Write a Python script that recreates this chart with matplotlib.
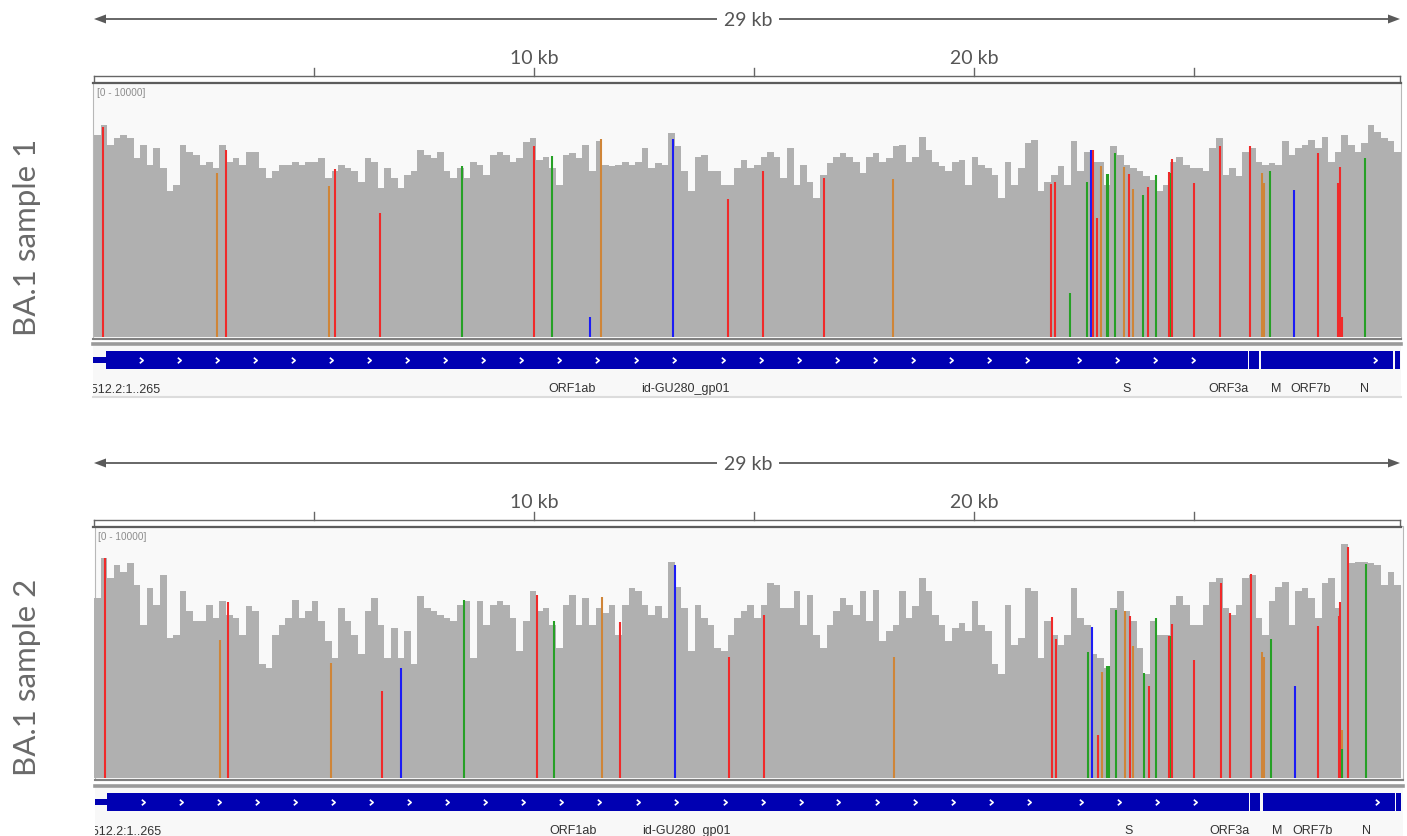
import matplotlib
matplotlib.use("Agg")
import matplotlib.pyplot as plt
from matplotlib.patches import Rectangle, Polygon
from matplotlib.path import Path

# ---------------- data ----------------
BIN = 150  # bp per coverage bin
cov1 = [8020, 8420, 7620, 7890, 8020, 7890, 7100, 7620, 6830, 7490,
        6700, 5780, 6040, 7620, 7360, 7230, 6830, 6960, 6700, 7620,
        6960, 7100, 6830, 7360, 7360, 6700, 6300, 6570, 6830, 6830,
        6960, 6830, 6960, 6960, 7100, 6300, 6570, 6830, 6700, 6570,
        6170, 7100, 6960, 5910, 6700, 6300, 5910, 6440, 6570, 7430,
        7230, 7100, 7360, 6570, 6300, 6700, 6300, 6960, 6830, 6440,
        7230, 7360, 7230, 6960, 7100, 7750,
        7890, 7030, 7160, 6700, 6040, 7230, 7290, 7100, 7620, 6570,
        7760, 6830, 6770, 6830, 6960, 6830, 6960, 7490, 6700, 6900,
        6830, 8090, 7560, 6570, 5780, 7160, 7230, 6570, 6570, 6040,
        6040, 6700, 7030, 6700, 6830, 7160, 7360, 7160, 6300, 7490,
        6040, 6830, 6170, 5510, 6440, 6900, 7160, 7290, 7160, 6960,
        6500, 7160, 7290, 6960, 7100, 7560, 7620, 6960, 7160, 7950,
        7430, 6960, 6770, 6570, 6960, 7030,
        6040, 7160, 6830, 6700, 6440, 5510, 6960, 6040, 6700, 7690,
        7820, 5780, 6170, 6440, 6770, 6040, 7760, 6570, 7360, 6960,
        6960, 6040, 7560, 7230, 6830, 6700, 6570, 6370, 6240, 5780,
        6040, 6960, 7160, 6830, 6700, 6700, 6570, 7490, 7890, 6440,
        6700, 6370, 7360, 7490, 6960, 6830, 6900, 6830, 7760, 7230,
        7490, 7620, 7820, 7490, 7950, 6960, 7360, 8020, 7620, 7360,
        7690, 8420, 8150, 7890, 7760, 7360]

cov2 = [7230, 8820, 8020, 8550, 8290, 8620, 7760, 6160, 7620, 6960,
        8150, 5630, 5760, 7490, 6690, 6290, 6290, 6960, 6430, 7090,
        6560, 6430, 5760, 6890, 6690, 4560, 4430, 5760, 6160, 6430,
        7160, 6430, 6690, 7090, 6290, 5500, 4830, 6830, 6290, 5760,
        4960, 6690, 7230, 6160, 4830, 6030, 4830, 5890, 4560, 7290,
        6830, 6690, 6560, 6430, 6290, 6960, 7090, 4830, 7090, 6160,
        6960, 7090, 6960, 6430, 5100, 6290,
        7490, 6690, 6830, 6160, 5230, 6960, 7360, 6160, 7220, 6160,
        6830, 6630, 6960, 5760, 6960, 7620, 7490, 6960, 6560, 6900,
        6430, 8690, 7690, 6830, 5100, 6960, 6430, 6160, 5230, 5100,
        5760, 6430, 6690, 6960, 6430, 6960, 7830, 7760, 6830, 6830,
        7490, 6160, 7360, 5760, 5230, 6160, 6690, 7220, 6960, 6560,
        7490, 6290, 7560, 5500, 5890, 6160, 7490, 6430, 6890, 8020,
        7490, 6560, 6160, 5500, 6030, 6230,
        5890, 7090, 6160, 5890, 4560, 4170, 6960, 5360, 5630, 7620,
        7490, 4830, 6290, 5760, 5360, 5760, 7620, 6430, 6160, 4960,
        4830, 4430, 6830, 7490, 6690, 6290, 5230, 4170, 6290, 5760,
        5760, 6960, 7290, 6960, 6160, 6160, 6960, 7890, 8020, 6830,
        6560, 6960, 8020, 8150, 6430, 5760, 7090, 7690, 7890, 6160,
        7490, 7620, 7220, 6430, 7830, 8020, 6830, 9400, 8620, 8690,
        8690, 8620, 8550, 7760, 8290, 7760]

s1_pos = [197, 2795, 2993, 5333, 5485, 6492, 8371, 10008, 10409, 11265,
          11523, 13152, 14402, 15205, 16583, 18159, 21750, 21848, 22189, 22560,
          22659, 22705, 22803, 22886, 23015, 23052, 23211, 23409, 23530, 23606,
          23841, 23962, 24129, 24424, 24470, 24500, 24993, 25591, 26265, 26538,
          26584, 26734, 27273, 27818, 28280, 28311, 28364, 28893]
s1_base = ['T', 'G', 'T', 'G', 'T', 'T', 'A', 'T', 'A', 'C',
           'G', 'C', 'T', 'T', 'T', 'G', 'T', 'T', 'A', 'A',
           'C', 'T', 'T', 'G', 'A', 'A', 'A', 'G', 'T', 'G',
           'A', 'T', 'A', 'T', 'A', 'T', 'T', 'T', 'T', 'G',
           'G', 'A', 'C', 'T', 'T', 'T', 'T', 'A']
s1_depth = [8350, 6500, 7430, 5990, 6650, 4920, 6770, 7560, 7190, 790,
            7850, 7850, 5470, 6570, 6300, 6260, 6080, 6150, 1750, 6170,
            7430, 7430, 4740, 6800, 6460, 6460, 7320, 6730, 6460, 5880,
            5640, 5970, 6440, 6540, 6500, 7070, 6130, 7580, 7580, 6500,
            6100, 6570, 5840, 7290, 6100, 6730, 800, 7120]

s2_pos = [250, 2856, 3053, 5379, 6545, 6970, 8402, 10061, 10455, 11545,
          11955, 13197, 14432, 15234, 18174, 21780, 21871, 22591, 22689, 22826,
          22916, 23023, 23068, 23227, 23424, 23545, 23614, 23856, 23977, 24136,
          24432, 24477, 24507, 25000, 25620, 25825, 26288, 26545, 26591, 26743,
          27288, 27825, 28295, 28326, 28370, 28370, 28493, 28909]
s2_base = ['T', 'G', 'T', 'G', 'T', 'C', 'A', 'T', 'A', 'G',
           'T', 'C', 'T', 'T', 'G', 'T', 'T', 'A', 'C', 'T',
           'G', 'A', 'A', 'A', 'G', 'T', 'G', 'A', 'T', 'A',
           'T', 'A', 'T', 'T', 'T', 'T', 'T', 'G', 'G', 'A',
           'C', 'T', 'T', 'T', 'G', 'A', 'T', 'A']
s2_depth = [8850, 5560, 7060, 4630, 3500, 4400, 7160, 7330, 6290, 7250,
            6270, 8550, 4870, 6560, 4870, 6450, 5590, 5070, 6050, 1740,
            4260, 4500, 4500, 6760, 6720, 6520, 5320, 4200, 3700, 6430,
            5690, 5690, 6200, 4720, 7820, 6630, 8180, 5060, 4870, 5590,
            3700, 6090, 6520, 7060, 1940, 1170, 9280, 8580]

cds_blocks = [(266, 26220), (26245, 26472), (26523, 29533), (29558, 29674)]
utr5 = (1, 265)
gene_labels = ['ORF1ab', 'id-GU280_gp01', 'S', 'ORF3a', 'M', 'ORF7b', 'N']
gene_label_pos = [10864, 13432, 23477, 25773, 26864, 27659, 28886]
first_feature_label = 'NC_045512.2:1..265'
ruler_ticks_kb = [5, 10, 15, 20, 25]
ruler_labels_kb = [10, 20]
span_label = '29 kb'
sample_names = ['BA.1 sample 1', 'BA.1 sample 2']
data_range_label = '[0 - 10000]'
DATA_MAX = 10000

# ---------------- styling / layout ----------------
W, H = 1407, 837
X0 = 94.0          # pixel of bp 0
PXBP = 0.044       # pixels per bp
COV_GRAY = '#b0b0b0'
BASE_COL = {'A': '#26a026', 'C': '#1c1cf5', 'G': '#cf8538', 'T': '#f02a2a'}
GENE_BLUE = '#0000b2'
TXT = '#555555'

fig = plt.figure(figsize=(W / 100, H / 100), dpi=100)
ov = fig.add_axes([0, 0, 1, 1], zorder=0)
ov.set_xlim(0, W)
ov.set_ylim(H, 0)
ov.axis('off')


def bp2px(bp):
    return X0 + bp * PXBP


def px_axes(x0, y0, x1, y1, z=2):
    ax = fig.add_axes([x0 / W, 1 - y1 / H, (x1 - x0) / W, (y1 - y0) / H], zorder=z)
    ax.patch.set_alpha(0)
    ax.axis('off')
    return ax


chev = Path([(-0.6, 1.0), (0.6, 0.0), (-0.6, -1.0)], [Path.MOVETO, Path.LINETO, Path.LINETO])
arrow_px = [141, 179, 217, 255, 293, 331, 369, 407, 445, 483, 521, 559, 597, 636, 674,
            723, 761, 799, 837, 875, 913, 951, 989, 1027, 1079, 1117, 1155, 1193, 1375]


def panel(oy, cov, vpos, vbase, vdepth, name, data_top, data_bot, gy, dx, label_cy):
    # span arrow
    ya = 20 + oy
    xl, xr = bp2px(0), 1400
    ov.plot([xl + 8, xr - 8], [ya, ya], color='#5a5a5a', lw=1.3, solid_capstyle='butt')
    ov.add_patch(Polygon([(xl, ya), (xl + 12, ya - 4.5), (xl + 12, ya + 4.5)], closed=True,
                         color='#5a5a5a', lw=0))
    ov.add_patch(Polygon([(xr, ya), (xr - 12, ya - 4.5), (xr - 12, ya + 4.5)], closed=True,
                         color='#5a5a5a', lw=0))
    ov.text((xl + xr) / 2 + 1, ya, span_label, ha='center', va='center', fontsize=14,
            color=TXT, family='Lato',
            bbox=dict(facecolor='white', edgecolor='none', pad=5))
    # ruler
    yr = 77 + oy
    ov.plot([xl, xr], [yr, yr], color='#666666', lw=1.0)
    ov.plot([xl, xl], [yr, yr + 6], color='#666666', lw=1.0)
    ov.plot([xr, xr], [yr, yr + 6], color='#666666', lw=1.0)
    for t in ruler_ticks_kb:
        x = bp2px(t * 1000)
        ov.plot([x, x], [yr - 8, yr], color='#666666', lw=1.0)
    for t in ruler_labels_kb:
        ov.text(bp2px(t * 1000), 58 + oy, f'{t} kb', ha='center', va='center',
                fontsize=14, color=TXT, family='Lato')
    # track box
    bx0, bx1 = 93 + dx, 1401 + dx
    ov.add_patch(Rectangle((bx0, yr + 6), bx1 - bx0, data_bot + 2 - (yr + 6),
                           facecolor='#f9f9f9', edgecolor='#b8b8b8', lw=0.8))
    ov.plot([xl - 1, xr + 1], [yr + 6.5, yr + 6.5], color='#5c5c5c', lw=1.6)
    ov.plot([bx0, bx1], [data_bot + 1.5, data_bot + 1.5], color='#808080', lw=1.5)
    ov.text(bx0 + 4, yr + 16, data_range_label, ha='left', va='center', fontsize=7.2,
            color='#8c8c8c', family='Liberation Sans')
    # sample label
    ov.text(27, label_cy, name, rotation=90, ha='center', va='center',
            fontsize=22.5, color='#6a6a6a', family='Lato')

    # coverage + variants in genome coordinates
    ax = px_axes(93, data_top, 1401, data_bot)
    ax.set_xlim((93 - X0) / PXBP, (1401 - X0) / PXBP)
    ax.set_ylim(0, DATA_MAX)
    edges = [i * BIN for i in range(len(cov) + 1)]
    ax.stairs(cov, edges, fill=True, color=COV_GRAY, lw=0)
    ax.vlines(vpos, 0, vdepth, colors=[BASE_COL[b] for b in vbase], lw=1.5)

    # separator lines below track
    ov.plot([bx0, bx1], [gy - 7, gy - 7], color='#9a9a9a', lw=2.6)
    # gene track
    ov.add_patch(Rectangle((bx0, gy - 5), bx1 - bx0, 51, facecolor='#f8f8f8',
                           edgecolor='none'))
    ov.plot([bx0, bx1], [gy + 46, gy + 46], color='#dcdcdc', lw=1.5)
    gx = px_axes(93 + dx, gy - 5, 1401 + dx, gy + 46)
    gx.set_xlim((93 - X0) / PXBP, (1401 - X0) / PXBP)
    gx.set_ylim(gy + 46, gy - 5)
    gx.broken_barh([(s, e - s) for s, e in cds_blocks], (gy, 18), facecolors=GENE_BLUE,
                   lw=0)
    gx.broken_barh([(utr5[0] - 30, utr5[1] - utr5[0] + 30)], (gy + 6, 6),
                   facecolors=GENE_BLUE, lw=0)
    for lab, p in zip(gene_labels, gene_label_pos):
        gx.text(p, gy + 37, lab, ha='center', va='center', fontsize=9,
                color='#333333', family='Liberation Sans')
    gx.text((160 - X0) / PXBP, gy + 37, first_feature_label, ha='right', va='center',
            fontsize=9, color='#333333', family='Liberation Sans', clip_on=True)
    gx.plot([(a - X0) / PXBP for a in arrow_px], [gy + 9] * len(arrow_px), ls='none',
            marker=chev, ms=4, mec='white', mfc='none', mew=1.2, zorder=5)


panel(0, cov1, s1_pos, s1_base, s1_depth, sample_names[0], 86, 338, 352, 0, 237)
panel(444, cov2, s2_pos, s2_base, s2_depth, sample_names[1], 530, 779, 794, 1.5, 677)

fig.savefig('out.png', dpi=100)
